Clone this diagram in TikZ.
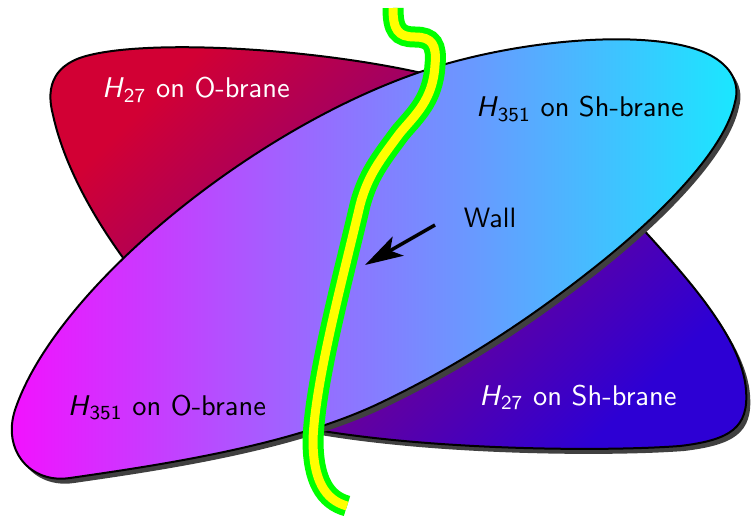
\documentclass[tikz,border=0pt]{standalone}
\usetikzlibrary{arrows.meta}
\definecolor{redA}{RGB}{210,0,52}
\definecolor{blueA}{RGB}{45,0,212}
\definecolor{magA}{RGB}{245,15,255}
\definecolor{cyanA}{RGB}{25,232,255}
\definecolor{shadowA}{RGB}{64,64,64}
\definecolor{wallgreen}{RGB}{0,255,0}
\definecolor{wallyellow}{RGB}{255,255,0}
\newcommand\branelabel[2]{\scalebox{2.85}{\sffamily\fontsize{10}{12}\selectfont\textit{H}\textsubscript{#1}\ on #2}}
\newcommand\plainlabel[1]{\scalebox{2.8}{\sffamily\fontsize{10}{12}\selectfont #1}}
\tikzset{
  backshape/.style={insert path={(450,80) .. controls (340,50) and (160,38) .. (90,55)
     .. controls (55,63) and (45,85) .. (53,115)
     .. controls (65,170) and (100,230) .. (140,280)
     -- (630,215) .. controls (680,270) and (742,335) .. (746,390)
     .. controls (749,428) and (730,440) .. (680,446)
     .. controls (600,452) and (420,450) .. (300,427)
     -- (380,390) -- cycle}},
  frontshape/.style={insert path={(15,410) .. controls (55,290) and (250,130) .. (420,72)
     .. controls (520,38) and (655,28) .. (708,54)
     .. controls (732,66) and (740,84) .. (735,102)
     .. controls (725,150) and (660,215) .. (600,263)
     .. controls (540,311) and (470,360) .. (380,403)
     .. controls (290,446) and (160,465) .. (70,478)
     .. controls (30,484) and (2,450) .. cycle}},
  wallpath/.style={insert path={(393,8) .. controls (393,30) and (398,37) .. (415,37)
     .. controls (432,37) and (437,45) .. (435,65)
     .. controls (433,100) and (415,115) .. (400,133)
     .. controls (380,160) and (368,175) .. (360,205)
     .. controls (345,270) and (315,380) .. (313,440)
     .. controls (313,480) and (325,500) .. (347,506)}},
  shadowfill/.style={fill=shadowA, shift={(4,5)}},
  outline/.style={draw=black, line width=2pt},
  lbl/.style={anchor=base, inner sep=0pt}
}
\begin{document}
\begin{tikzpicture}[x=1pt,y=-1pt]
\useasboundingbox (0,0) rectangle (751,516);
% back shape
\fill[shadowfill, backshape];
\shade[outline, top color=redA, bottom color=blueA, shading angle=45, backshape];
% front shape
\fill[shadowfill, frontshape];
\shade[outline, left color=magA, right color=cyanA, frontshape];
% wall
\draw[wallgreen, line width=21pt, line cap=butt, wallpath];
\draw[wallyellow, line width=9pt, line cap=butt, wallpath];
% labels
\node[lbl, text=white] (h27o) at (196,98) {\branelabel{27}{O-brane}};
\node[lbl, text=black] (h351s) at (580,117) {\branelabel{351}{Sh-brane}};
\node[lbl, text=white] (h27s) at (578,405) {\branelabel{27}{Sh-brane}};
\node[lbl, text=black] (h351o) at (167,415) {\branelabel{351}{O-brane}};
\node[lbl, text=black] (wall) at (490,227) {\plainlabel{Wall}};
\coordinate (atail) at (435,225);
\coordinate (atip) at (365,265);
\draw[line width=3.5pt, -{Stealth[length=38pt, width=22pt, inset=9pt]}] (atail) -- (atip);
\end{tikzpicture}
\end{document}
